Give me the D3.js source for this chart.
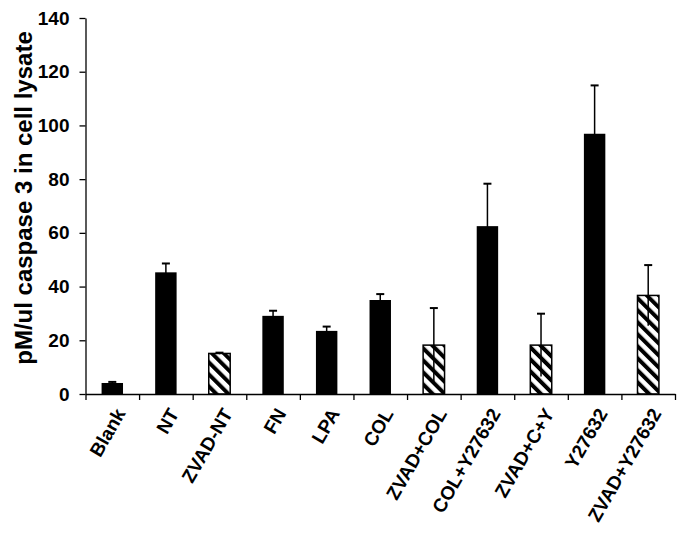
<!DOCTYPE html>
<html>
<head>
<meta charset="utf-8">
<script src="https://cdn.jsdelivr.net/npm/d3@7"></script>
<style>
  html, body { margin: 0; padding: 0; background: #fff; }
  svg { display: block; }
  text { font-family: "Liberation Sans", Arial, sans-serif; font-weight: bold; fill: #000; }
</style>
</head>
<body>
<svg id="chart" width="684" height="539"></svg>
<script>
// ---- data ----
const categories = ["Blank", "NT", "ZVAD-NT", "FN", "LPA", "COL", "ZVAD+COL", "COL+Y27632", "ZVAD+C+Y", "Y27632", "ZVAD+Y27632"];
const values = [4.1, 45.3, 15.1, 29.1, 23.5, 35.0, 18.2, 62.5, 18.2, 96.9, 36.7];
const errors = [0.4, 3.3, 0.3, 1.9, 1.6, 2.2, 13.8, 15.8, 11.7, 18.0, 11.3];
const hatched = [false, false, true, false, false, false, true, false, true, false, true];
const yTicks = [0, 20, 40, 60, 80, 100, 120, 140];
const yLabel = "pM/ul caspase 3 in cell lysate";

// ---- layout ----
const mLeft = 85.5, mRight = 675, mTop = 18, mBottom = 394;
const svg = d3.select("#chart");

const x = d3.scaleBand().domain(categories).range([mLeft, mRight]).padding(0);
const xIdx = d3.scaleLinear().domain([0, categories.length]).range([mLeft, mRight]);
const y = d3.scaleLinear().domain([0, 140]).range([mBottom, mTop]);
const barW = x.bandwidth() * 0.4;

// hatch pattern
const defs = svg.append("defs");
const pat = defs.append("pattern")
  .attr("id", "hatch")
  .attr("patternUnits", "userSpaceOnUse")
  .attr("width", 8.5).attr("height", 8.5)
  .attr("patternTransform", "rotate(-45)");
pat.append("rect").attr("width", 8.5).attr("height", 8.5).attr("fill", "#fff");
pat.append("rect").attr("x", 0).attr("y", 0).attr("width", 4).attr("height", 8.5).attr("fill", "#000");

const data = categories.map((c, i) => ({ c, v: values[i], e: errors[i], h: hatched[i] }));

// bars
svg.append("g").selectAll("rect").data(data).join("rect")
  .attr("x", d => x(d.c) + (x.bandwidth() - barW) / 2)
  .attr("y", d => y(d.v))
  .attr("width", barW)
  .attr("height", d => y(0) - y(d.v))
  .attr("fill", d => d.h ? "url(#hatch)" : "#000")
  .attr("stroke", "#000")
  .attr("stroke-width", d => d.h ? 1.5 : 0);

// error bars
const eg = svg.append("g").attr("stroke", "#000").attr("stroke-width", 1.5);
data.forEach(d => {
  const cx = x(d.c) + x.bandwidth() / 2;
  eg.append("line").attr("x1", cx).attr("x2", cx)
    .attr("y1", y(Math.max(0, d.v - d.e))).attr("y2", y(d.v + d.e));
  eg.append("line").attr("x1", cx - 4).attr("x2", cx + 4)
    .attr("y1", y(d.v + d.e)).attr("y2", y(d.v + d.e)).attr("stroke-width", 2);
});

// y axis
const yAxis = svg.append("g")
  .attr("transform", `translate(${mLeft},0)`)
  .call(d3.axisLeft(y).tickValues(yTicks).tickSize(6).tickSizeOuter(0).tickPadding(10));
yAxis.selectAll("text").style("font-size", "19px");
yAxis.selectAll("line, path").attr("stroke", "#000").attr("stroke-width", 1.3);

// x axis (ticks at category boundaries)
const xAxis = svg.append("g")
  .attr("transform", `translate(0,${mBottom})`)
  .call(d3.axisBottom(xIdx).tickValues(d3.range(categories.length + 1)).tickFormat("").tickSize(6).tickSizeOuter(0));
xAxis.selectAll("line, path").attr("stroke", "#000").attr("stroke-width", 1.3);

// x labels
svg.append("g").selectAll("text").data(categories).join("text")
  .attr("transform", c => `translate(${x(c) + x.bandwidth() / 2 + 8},${mBottom + 16}) rotate(-60)`)
  .attr("text-anchor", "end")
  .attr("dy", "0.35em")
  .style("font-size", "19px")
  .text(c => c);

// y label
svg.append("text")
  .attr("transform", `translate(24,198) rotate(-90)`)
  .attr("text-anchor", "middle")
  .attr("dy", "0.35em")
  .style("font-size", "24px")
  .text(yLabel);
</script>
</body>
</html>
